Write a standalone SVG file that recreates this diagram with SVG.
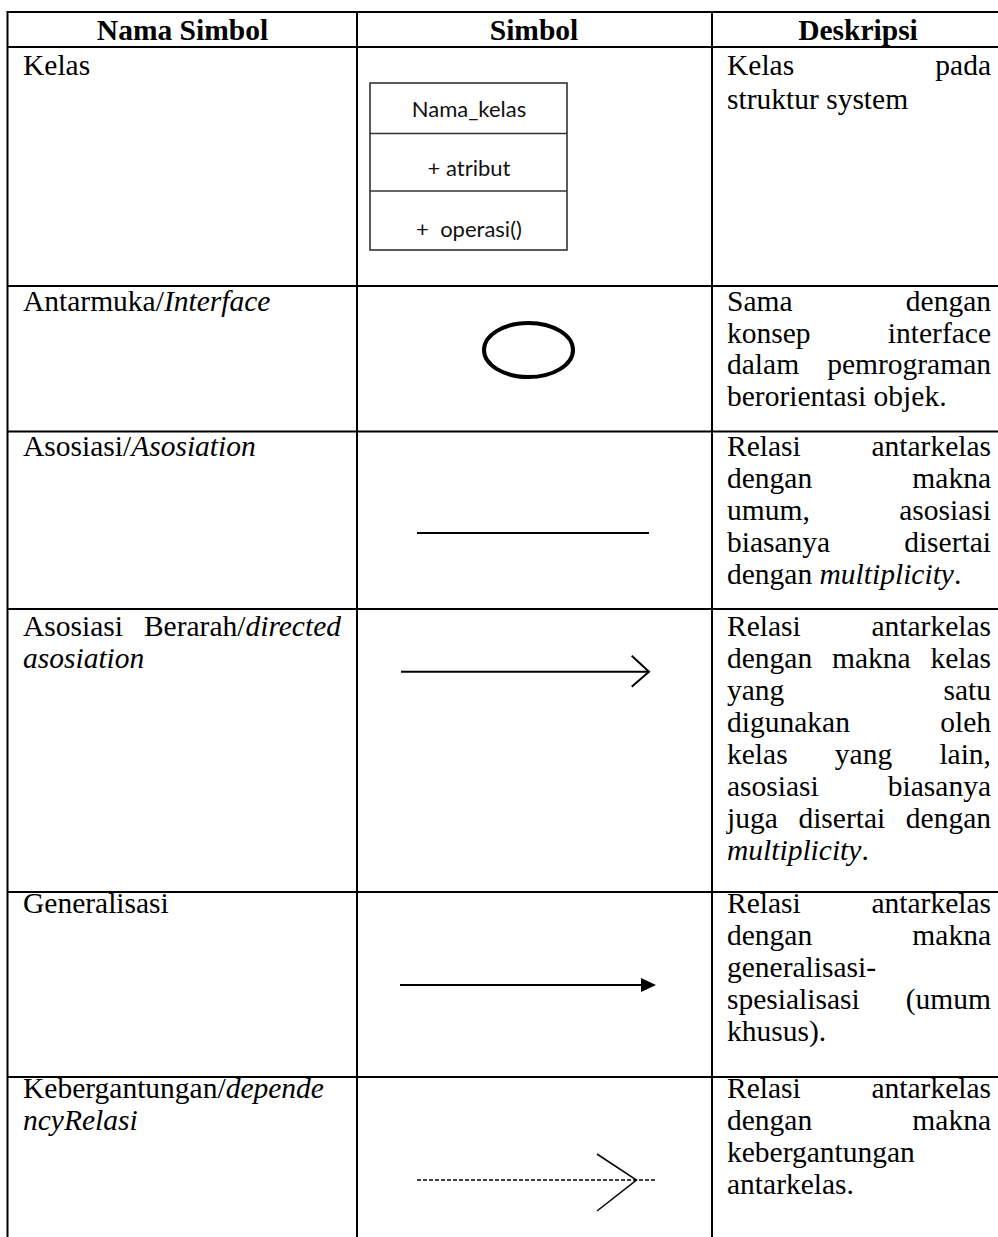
<svg xmlns="http://www.w3.org/2000/svg" width="998" height="1237" viewBox="0 0 998 1237">
<style>
.t{font-family:"Liberation Serif","Times New Roman",serif;font-size:29.5px;fill:#000}
.b{font-weight:bold}
.i{font-style:italic}
.e{text-anchor:end}
.m{text-anchor:middle}
.c{font-family:Lato,"Noto Sans",sans-serif;font-size:22px;fill:#111;text-anchor:middle}
.g{stroke:#000;stroke-width:2;fill:none}
</style>
<rect width="998" height="1237" fill="#fff"/>
<g id="table" class="g">
<line x1="7" y1="12" x2="998" y2="12"/>
<line x1="7" y1="47" x2="998" y2="47"/>
<line x1="7" y1="286" x2="998" y2="286"/>
<line x1="7" y1="431.5" x2="998" y2="431.5"/>
<line x1="7" y1="609" x2="998" y2="609"/>
<line x1="7" y1="892" x2="998" y2="892"/>
<line x1="7" y1="1077" x2="998" y2="1077"/>
<line x1="7.5" y1="11" x2="7.5" y2="1237"/>
<line x1="357" y1="11" x2="357" y2="1237"/>
<line x1="712" y1="11" x2="712" y2="1237"/>
</g>
<g id="header">
<text class="t b m" x="182.5" y="39.5">Nama Simbol</text>
<text class="t b m" x="534" y="39.5">Simbol</text>
<text class="t b m" x="858" y="39.5">Deskripsi</text>
</g>
<g id="row-kelas">
<text class="t" x="23" y="75">Kelas</text>
<g id="class-symbol">
<rect x="370" y="83" width="197" height="167" fill="#fff" stroke="#333" stroke-width="1.6"/>
<line x1="370" y1="133.5" x2="567" y2="133.5" stroke="#333" stroke-width="1.6"/>
<line x1="370" y1="191" x2="567" y2="191" stroke="#333" stroke-width="1.6"/>
<text class="c" x="469" y="117">Nama_kelas</text>
<text class="c" x="469" y="175.5">+ atribut</text>
<text class="c" x="469" y="237">+&#160;&#160;operasi()</text>
</g>
<text class="t" x="727" y="75">Kelas</text>
<text class="t e" x="991" y="75">pada</text>
<text class="t" x="727" y="109">struktur system</text>
</g>
<g id="row-interface">
<text class="t" x="23" y="311">Antarmuka/<tspan class="i">Interface</tspan></text>
<ellipse cx="528.5" cy="350" rx="44.5" ry="27" fill="none" stroke="#000" stroke-width="4"/>
<text class="t" x="727" y="311">Sama</text><text class="t e" x="991" y="311">dengan</text>
<text class="t" x="727" y="342.5">konsep</text><text class="t e" x="991" y="342.5">interface</text>
<text class="t" x="727" y="374">dalam</text><text class="t e" x="991" y="374">pemrograman</text>
<text class="t" x="727" y="405.5">berorientasi objek.</text>
</g>
<g id="row-asosiasi">
<text class="t" x="23" y="456">Asosiasi/<tspan class="i">Asosiation</tspan></text>
<text class="t" x="727" y="456">Relasi</text><text class="t e" x="991" y="456">antarkelas</text>
<text class="t" x="727" y="488">dengan</text><text class="t e" x="991" y="488">makna</text>
<text class="t" x="727" y="520">umum,</text><text class="t e" x="991" y="520">asosiasi</text>
<text class="t" x="727" y="552">biasanya</text><text class="t e" x="991" y="552">disertai</text>
<text class="t" x="727" y="584">dengan <tspan class="i">multiplicity</tspan>.</text>
</g>
<g id="row-berarah">
<text class="t" x="23" y="636">Asosiasi</text><text class="t e" x="341" y="636">Berarah/<tspan class="i">directed</tspan></text>
<text class="t i" x="23" y="668">asosiation</text>
<text class="t" x="727" y="636">Relasi</text><text class="t e" x="991" y="636">antarkelas</text>
<text class="t" x="727" y="668">dengan</text><text class="t" x="832" y="668">makna</text><text class="t e" x="991" y="668">kelas</text>
<text class="t" x="727" y="700">yang</text><text class="t e" x="991" y="700">satu</text>
<text class="t" x="727" y="732">digunakan</text><text class="t e" x="991" y="732">oleh</text>
<text class="t" x="727" y="764">kelas</text><text class="t" x="834.8" y="764">yang</text><text class="t e" x="991" y="764">lain,</text>
<text class="t" x="727" y="796">asosiasi</text><text class="t e" x="991" y="796">biasanya</text>
<text class="t" x="727" y="828">juga</text><text class="t" x="798.4" y="828">disertai</text><text class="t e" x="991" y="828">dengan</text>
<text class="t" x="727" y="860"><tspan class="i">multiplicity</tspan>.</text>
</g>
<g id="row-generalisasi">
<text class="t" x="23" y="913">Generalisasi</text>
<text class="t" x="727" y="913">Relasi</text><text class="t e" x="991" y="913">antarkelas</text>
<text class="t" x="727" y="945">dengan</text><text class="t e" x="991" y="945">makna</text>
<text class="t" x="727" y="977">generalisasi-</text>
<text class="t" x="727" y="1009">spesialisasi</text><text class="t e" x="991" y="1009">(umum</text>
<text class="t" x="727" y="1041">khusus).</text>
</g>
<g id="row-kebergantungan">
<text class="t" x="23" y="1098">Kebergantungan/<tspan class="i">depende</tspan></text>
<text class="t i" x="23" y="1130">ncyRelasi</text>
<text class="t" x="727" y="1098">Relasi</text><text class="t e" x="991" y="1098">antarkelas</text>
<text class="t" x="727" y="1130">dengan</text><text class="t e" x="991" y="1130">makna</text>
<text class="t" x="727" y="1162">kebergantungan</text>
<text class="t" x="727" y="1194">antarkelas.</text>
</g>
<g id="connectors">
<line id="asosiasi" x1="417" y1="533" x2="649" y2="533" stroke="#000" stroke-width="2"/>
<g id="directed">
<line x1="401" y1="671.7" x2="649" y2="671.7" stroke="#000" stroke-width="2"/>
<polyline points="631.7,655.7 649,671.7 631.7,686.7" fill="none" stroke="#000" stroke-width="2"/>
</g>
<g id="generalisasi">
<line x1="400" y1="985" x2="643" y2="985" stroke="#000" stroke-width="2"/>
<polygon points="641,978 656,985 641,992" fill="#000"/>
</g>
<g id="dependency">
<line x1="417" y1="1180" x2="656" y2="1180" stroke="#000" stroke-width="1.5" stroke-dasharray="4,2"/>
<polyline points="597,1154 636.5,1180 597,1211" fill="none" stroke="#000" stroke-width="1.5"/>
</g>
</g>
</svg>
